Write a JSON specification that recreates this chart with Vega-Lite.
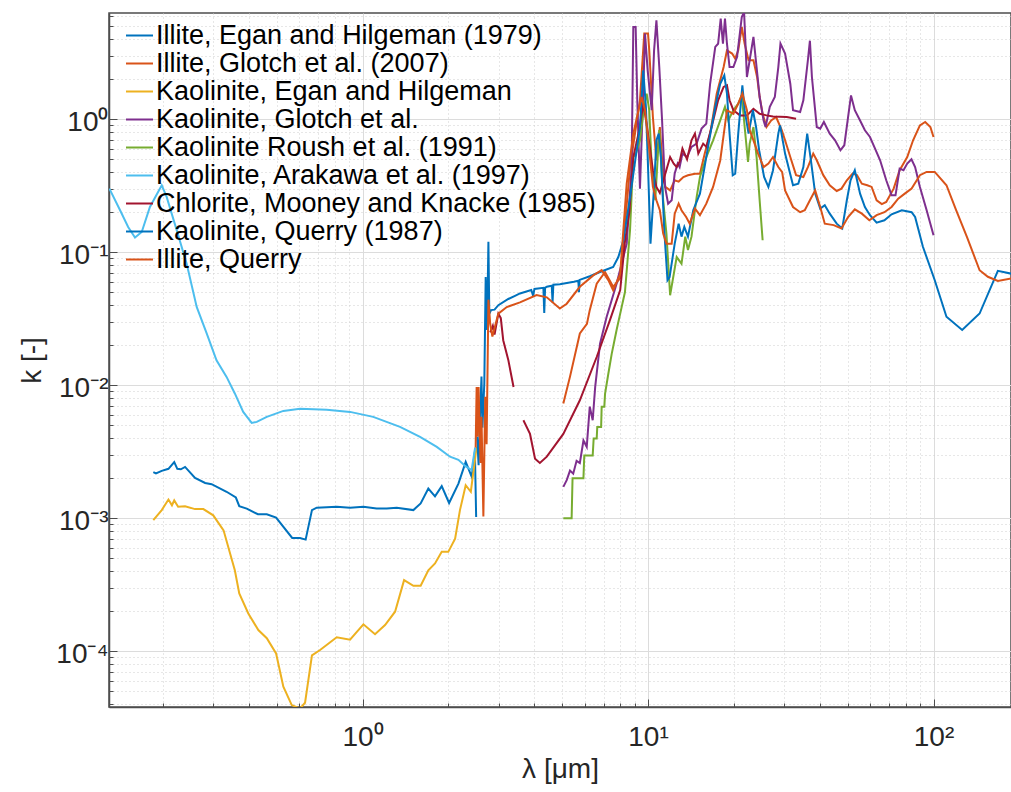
{
  "$schema": "https://vega.github.io/schema/vega-lite/v6.json",
  "width": 902,
  "height": 694,
  "autosize": {"type": "none"},
  "padding": {"left": 109, "top": 13, "right": 0, "bottom": 85},
  "background": "white",
  "config": {
    "font": "Liberation Sans",
    "view": {"stroke": "#4d4d4d", "strokeWidth": 1.5}
  },
  "data": {"values": [
    {"s":"Illite, Egan and Hilgeman (1979)","x":0.185,"k":0.00222},
    {"s":"Illite, Egan and Hilgeman (1979)","x":0.189,"k":0.00217},
    {"s":"Illite, Egan and Hilgeman (1979)","x":0.198,"k":0.00227},
    {"s":"Illite, Egan and Hilgeman (1979)","x":0.209,"k":0.00235},
    {"s":"Illite, Egan and Hilgeman (1979)","x":0.219,"k":0.00264},
    {"s":"Illite, Egan and Hilgeman (1979)","x":0.2245,"k":0.00235},
    {"s":"Illite, Egan and Hilgeman (1979)","x":0.231,"k":0.00233},
    {"s":"Illite, Egan and Hilgeman (1979)","x":0.239,"k":0.00243},
    {"s":"Illite, Egan and Hilgeman (1979)","x":0.259,"k":0.00201},
    {"s":"Illite, Egan and Hilgeman (1979)","x":0.281,"k":0.00184},
    {"s":"Illite, Egan and Hilgeman (1979)","x":0.296,"k":0.0018},
    {"s":"Illite, Egan and Hilgeman (1979)","x":0.334,"k":0.00158},
    {"s":"Illite, Egan and Hilgeman (1979)","x":0.36,"k":0.00143},
    {"s":"Illite, Egan and Hilgeman (1979)","x":0.37,"k":0.00123},
    {"s":"Illite, Egan and Hilgeman (1979)","x":0.393,"k":0.00118},
    {"s":"Illite, Egan and Hilgeman (1979)","x":0.43,"k":0.00107},
    {"s":"Illite, Egan and Hilgeman (1979)","x":0.462,"k":0.00107},
    {"s":"Illite, Egan and Hilgeman (1979)","x":0.498,"k":0.00101},
    {"s":"Illite, Egan and Hilgeman (1979)","x":0.567,"k":0.00071},
    {"s":"Illite, Egan and Hilgeman (1979)","x":0.604,"k":0.00071},
    {"s":"Illite, Egan and Hilgeman (1979)","x":0.632,"k":0.00069},
    {"s":"Illite, Egan and Hilgeman (1979)","x":0.665,"k":0.00115},
    {"s":"Illite, Egan and Hilgeman (1979)","x":0.691,"k":0.0012},
    {"s":"Illite, Egan and Hilgeman (1979)","x":0.812,"k":0.00122},
    {"s":"Illite, Egan and Hilgeman (1979)","x":0.904,"k":0.0012},
    {"s":"Illite, Egan and Hilgeman (1979)","x":1.007,"k":0.00122},
    {"s":"Illite, Egan and Hilgeman (1979)","x":1.12,"k":0.00118},
    {"s":"Illite, Egan and Hilgeman (1979)","x":1.215,"k":0.00118},
    {"s":"Illite, Egan and Hilgeman (1979)","x":1.318,"k":0.0012},
    {"s":"Illite, Egan and Hilgeman (1979)","x":1.507,"k":0.00115},
    {"s":"Illite, Egan and Hilgeman (1979)","x":1.598,"k":0.00129},
    {"s":"Illite, Egan and Hilgeman (1979)","x":1.7,"k":0.00167},
    {"s":"Illite, Egan and Hilgeman (1979)","x":1.794,"k":0.00146},
    {"s":"Illite, Egan and Hilgeman (1979)","x":1.894,"k":0.00174},
    {"s":"Illite, Egan and Hilgeman (1979)","x":2.01,"k":0.0013},
    {"s":"Illite, Egan and Hilgeman (1979)","x":2.167,"k":0.00182},
    {"s":"Illite, Egan and Hilgeman (1979)","x":2.298,"k":0.00265},
    {"s":"Illite, Egan and Hilgeman (1979)","x":2.412,"k":0.00205},
    {"s":"Illite, Egan and Hilgeman (1979)","x":2.475,"k":0.00316},
    {"s":"Illite, Egan and Hilgeman (1979)","x":2.5,"k":0.00102},

    {"s":"Illite, Glotch et al. (2007)","x":5.05,"k":0.00727},
    {"s":"Illite, Glotch et al. (2007)","x":5.33,"k":0.0116},
    {"s":"Illite, Glotch et al. (2007)","x":5.77,"k":0.0245},
    {"s":"Illite, Glotch et al. (2007)","x":6.11,"k":0.029},
    {"s":"Illite, Glotch et al. (2007)","x":6.25,"k":0.0367},
    {"s":"Illite, Glotch et al. (2007)","x":6.61,"k":0.058},
    {"s":"Illite, Glotch et al. (2007)","x":7.07,"k":0.071},
    {"s":"Illite, Glotch et al. (2007)","x":7.55,"k":0.055},
    {"s":"Illite, Glotch et al. (2007)","x":7.99,"k":0.064},
    {"s":"Illite, Glotch et al. (2007)","x":8.65,"k":0.437},
    {"s":"Illite, Glotch et al. (2007)","x":9.0,"k":0.78},
    {"s":"Illite, Glotch et al. (2007)","x":9.37,"k":1.39},
    {"s":"Illite, Glotch et al. (2007)","x":9.7,"k":4.41},
    {"s":"Illite, Glotch et al. (2007)","x":10.0,"k":4.41},
    {"s":"Illite, Glotch et al. (2007)","x":10.1,"k":3.3},
    {"s":"Illite, Glotch et al. (2007)","x":10.4,"k":1.04},
    {"s":"Illite, Glotch et al. (2007)","x":10.7,"k":0.49},
    {"s":"Illite, Glotch et al. (2007)","x":11.0,"k":0.875},
    {"s":"Illite, Glotch et al. (2007)","x":11.25,"k":0.437},
    {"s":"Illite, Glotch et al. (2007)","x":11.5,"k":0.31},
    {"s":"Illite, Glotch et al. (2007)","x":11.95,"k":0.292},
    {"s":"Illite, Glotch et al. (2007)","x":12.4,"k":0.348},
    {"s":"Illite, Glotch et al. (2007)","x":12.8,"k":0.34},
    {"s":"Illite, Glotch et al. (2007)","x":13.3,"k":0.368},
    {"s":"Illite, Glotch et al. (2007)","x":13.8,"k":0.379},
    {"s":"Illite, Glotch et al. (2007)","x":14.6,"k":0.39},
    {"s":"Illite, Glotch et al. (2007)","x":15.2,"k":0.39},
    {"s":"Illite, Glotch et al. (2007)","x":15.8,"k":0.552},
    {"s":"Illite, Glotch et al. (2007)","x":16.5,"k":0.78},
    {"s":"Illite, Glotch et al. (2007)","x":17.4,"k":1.56},
    {"s":"Illite, Glotch et al. (2007)","x":18.4,"k":2.47},
    {"s":"Illite, Glotch et al. (2007)","x":18.9,"k":3.3},
    {"s":"Illite, Glotch et al. (2007)","x":19.7,"k":3.12},
    {"s":"Illite, Glotch et al. (2007)","x":20.2,"k":2.86},
    {"s":"Illite, Glotch et al. (2007)","x":20.7,"k":3.3},
    {"s":"Illite, Glotch et al. (2007)","x":21.3,"k":4.94},
    {"s":"Illite, Glotch et al. (2007)","x":21.8,"k":3.7},
    {"s":"Illite, Glotch et al. (2007)","x":22.5,"k":2.78},
    {"s":"Illite, Glotch et al. (2007)","x":23.4,"k":2.78},
    {"s":"Illite, Glotch et al. (2007)","x":24.1,"k":2.08},
    {"s":"Illite, Glotch et al. (2007)","x":24.6,"k":1.47},
    {"s":"Illite, Glotch et al. (2007)","x":25.2,"k":1.1},
    {"s":"Illite, Glotch et al. (2007)","x":26.0,"k":0.875},
    {"s":"Illite, Glotch et al. (2007)","x":27.0,"k":0.98},
    {"s":"Illite, Glotch et al. (2007)","x":28.1,"k":1.04},
    {"s":"Illite, Glotch et al. (2007)","x":29.4,"k":0.83},
    {"s":"Illite, Glotch et al. (2007)","x":30.2,"k":0.695},
    {"s":"Illite, Glotch et al. (2007)","x":31.5,"k":0.52},
    {"s":"Illite, Glotch et al. (2007)","x":33.0,"k":0.38},
    {"s":"Illite, Glotch et al. (2007)","x":35.0,"k":0.368},
    {"s":"Illite, Glotch et al. (2007)","x":36.3,"k":0.437},
    {"s":"Illite, Glotch et al. (2007)","x":37.9,"k":0.552},
    {"s":"Illite, Glotch et al. (2007)","x":39.0,"k":0.492},
    {"s":"Illite, Glotch et al. (2007)","x":41.1,"k":0.38},
    {"s":"Illite, Glotch et al. (2007)","x":43.3,"k":0.319},
    {"s":"Illite, Glotch et al. (2007)","x":45.8,"k":0.289},
    {"s":"Illite, Glotch et al. (2007)","x":47.6,"k":0.301},
    {"s":"Illite, Glotch et al. (2007)","x":49.7,"k":0.348},
    {"s":"Illite, Glotch et al. (2007)","x":52.1,"k":0.391},
    {"s":"Illite, Glotch et al. (2007)","x":53.9,"k":0.38},
    {"s":"Illite, Glotch et al. (2007)","x":56.1,"k":0.328},
    {"s":"Illite, Glotch et al. (2007)","x":58.6,"k":0.319},
    {"s":"Illite, Glotch et al. (2007)","x":60.7,"k":0.31},
    {"s":"Illite, Glotch et al. (2007)","x":63.2,"k":0.246},
    {"s":"Illite, Glotch et al. (2007)","x":65.9,"k":0.23},
    {"s":"Illite, Glotch et al. (2007)","x":68.3,"k":0.239},
    {"s":"Illite, Glotch et al. (2007)","x":72.5,"k":0.301},
    {"s":"Illite, Glotch et al. (2007)","x":76.1,"k":0.414},
    {"s":"Illite, Glotch et al. (2007)","x":80.9,"k":0.52},
    {"s":"Illite, Glotch et al. (2007)","x":84.8,"k":0.695},
    {"s":"Illite, Glotch et al. (2007)","x":89.6,"k":0.9},
    {"s":"Illite, Glotch et al. (2007)","x":93.5,"k":0.954},
    {"s":"Illite, Glotch et al. (2007)","x":97.5,"k":0.875},
    {"s":"Illite, Glotch et al. (2007)","x":100,"k":0.736},

    {"s":"Kaolinite, Egan and Hilgeman","x":0.185,"k":0.000966},
    {"s":"Kaolinite, Egan and Hilgeman","x":0.198,"k":0.00115},
    {"s":"Kaolinite, Egan and Hilgeman","x":0.209,"k":0.00138},
    {"s":"Kaolinite, Egan and Hilgeman","x":0.215,"k":0.00125},
    {"s":"Kaolinite, Egan and Hilgeman","x":0.219,"k":0.00136},
    {"s":"Kaolinite, Egan and Hilgeman","x":0.226,"k":0.00122},
    {"s":"Kaolinite, Egan and Hilgeman","x":0.239,"k":0.00123},
    {"s":"Kaolinite, Egan and Hilgeman","x":0.259,"k":0.00117},
    {"s":"Kaolinite, Egan and Hilgeman","x":0.277,"k":0.00117},
    {"s":"Kaolinite, Egan and Hilgeman","x":0.3,"k":0.00105},
    {"s":"Kaolinite, Egan and Hilgeman","x":0.326,"k":0.00081},
    {"s":"Kaolinite, Egan and Hilgeman","x":0.357,"k":0.000406},
    {"s":"Kaolinite, Egan and Hilgeman","x":0.37,"k":0.000272},
    {"s":"Kaolinite, Egan and Hilgeman","x":0.398,"k":0.000192},
    {"s":"Kaolinite, Egan and Hilgeman","x":0.4315,"k":0.000144},
    {"s":"Kaolinite, Egan and Hilgeman","x":0.462,"k":0.000125},
    {"s":"Kaolinite, Egan and Hilgeman","x":0.498,"k":0.000096},
    {"s":"Kaolinite, Egan and Hilgeman","x":0.528,"k":0.000054},
    {"s":"Kaolinite, Egan and Hilgeman","x":0.565,"k":0.0000393},
    {"s":"Kaolinite, Egan and Hilgeman","x":0.604,"k":0.000037},
    {"s":"Kaolinite, Egan and Hilgeman","x":0.629,"k":0.0000409},
    {"s":"Kaolinite, Egan and Hilgeman","x":0.665,"k":0.000093},
    {"s":"Kaolinite, Egan and Hilgeman","x":0.71,"k":0.000102},
    {"s":"Kaolinite, Egan and Hilgeman","x":0.812,"k":0.000127},
    {"s":"Kaolinite, Egan and Hilgeman","x":0.904,"k":0.000122},
    {"s":"Kaolinite, Egan and Hilgeman","x":1.007,"k":0.000159},
    {"s":"Kaolinite, Egan and Hilgeman","x":1.106,"k":0.000134},
    {"s":"Kaolinite, Egan and Hilgeman","x":1.199,"k":0.000157},
    {"s":"Kaolinite, Egan and Hilgeman","x":1.3,"k":0.000198},
    {"s":"Kaolinite, Egan and Hilgeman","x":1.398,"k":0.000342},
    {"s":"Kaolinite, Egan and Hilgeman","x":1.507,"k":0.00031},
    {"s":"Kaolinite, Egan and Hilgeman","x":1.598,"k":0.00031},
    {"s":"Kaolinite, Egan and Hilgeman","x":1.7,"k":0.000406},
    {"s":"Kaolinite, Egan and Hilgeman","x":1.794,"k":0.000456},
    {"s":"Kaolinite, Egan and Hilgeman","x":1.894,"k":0.000558},
    {"s":"Kaolinite, Egan and Hilgeman","x":1.997,"k":0.000558},
    {"s":"Kaolinite, Egan and Hilgeman","x":2.11,"k":0.0007},
    {"s":"Kaolinite, Egan and Hilgeman","x":2.194,"k":0.00115},
    {"s":"Kaolinite, Egan and Hilgeman","x":2.298,"k":0.00177},
    {"s":"Kaolinite, Egan and Hilgeman","x":2.395,"k":0.00158},
    {"s":"Kaolinite, Egan and Hilgeman","x":2.51,"k":0.00344},

    {"s":"Kaolinite, Glotch et al.","x":5.05,"k":0.00172},
    {"s":"Kaolinite, Glotch et al.","x":5.19,"k":0.00193},
    {"s":"Kaolinite, Glotch et al.","x":5.33,"k":0.00228},
    {"s":"Kaolinite, Glotch et al.","x":5.47,"k":0.00216},
    {"s":"Kaolinite, Glotch et al.","x":5.62,"k":0.0027},
    {"s":"Kaolinite, Glotch et al.","x":5.77,"k":0.0026},
    {"s":"Kaolinite, Glotch et al.","x":5.94,"k":0.00384},
    {"s":"Kaolinite, Glotch et al.","x":6.1,"k":0.00344},
    {"s":"Kaolinite, Glotch et al.","x":6.25,"k":0.0069},
    {"s":"Kaolinite, Glotch et al.","x":6.4,"k":0.00545},
    {"s":"Kaolinite, Glotch et al.","x":6.53,"k":0.0097},
    {"s":"Kaolinite, Glotch et al.","x":6.79,"k":0.0205},
    {"s":"Kaolinite, Glotch et al.","x":7.16,"k":0.0326},
    {"s":"Kaolinite, Glotch et al.","x":7.76,"k":0.058},
    {"s":"Kaolinite, Glotch et al.","x":8.42,"k":0.116},
    {"s":"Kaolinite, Glotch et al.","x":8.76,"k":0.437},
    {"s":"Kaolinite, Glotch et al.","x":8.88,"k":4.94},
    {"s":"Kaolinite, Glotch et al.","x":9.05,"k":4.94},
    {"s":"Kaolinite, Glotch et al.","x":9.17,"k":1.39},
    {"s":"Kaolinite, Glotch et al.","x":9.37,"k":0.301},
    {"s":"Kaolinite, Glotch et al.","x":9.6,"k":1.39},
    {"s":"Kaolinite, Glotch et al.","x":9.76,"k":4.41},
    {"s":"Kaolinite, Glotch et al.","x":9.97,"k":2.33},
    {"s":"Kaolinite, Glotch et al.","x":10.3,"k":1.17},
    {"s":"Kaolinite, Glotch et al.","x":10.5,"k":3.3},
    {"s":"Kaolinite, Glotch et al.","x":10.7,"k":5.55},
    {"s":"Kaolinite, Glotch et al.","x":10.95,"k":2.47},
    {"s":"Kaolinite, Glotch et al.","x":11.2,"k":0.98},
    {"s":"Kaolinite, Glotch et al.","x":11.47,"k":0.31},
    {"s":"Kaolinite, Glotch et al.","x":11.76,"k":0.232},
    {"s":"Kaolinite, Glotch et al.","x":12.1,"k":0.246},
    {"s":"Kaolinite, Glotch et al.","x":12.4,"k":0.391},
    {"s":"Kaolinite, Glotch et al.","x":12.7,"k":0.464},
    {"s":"Kaolinite, Glotch et al.","x":12.9,"k":0.437},
    {"s":"Kaolinite, Glotch et al.","x":13.2,"k":0.552},
    {"s":"Kaolinite, Glotch et al.","x":13.7,"k":0.52},
    {"s":"Kaolinite, Glotch et al.","x":14.2,"k":0.62},
    {"s":"Kaolinite, Glotch et al.","x":14.8,"k":0.656},
    {"s":"Kaolinite, Glotch et al.","x":15.4,"k":0.851},
    {"s":"Kaolinite, Glotch et al.","x":16.0,"k":0.928},
    {"s":"Kaolinite, Glotch et al.","x":16.5,"k":1.85},
    {"s":"Kaolinite, Glotch et al.","x":17.2,"k":3.5},
    {"s":"Kaolinite, Glotch et al.","x":17.6,"k":3.7},
    {"s":"Kaolinite, Glotch et al.","x":17.97,"k":5.72},
    {"s":"Kaolinite, Glotch et al.","x":18.3,"k":3.7},
    {"s":"Kaolinite, Glotch et al.","x":18.6,"k":5.72},
    {"s":"Kaolinite, Glotch et al.","x":18.9,"k":3.7},
    {"s":"Kaolinite, Glotch et al.","x":19.3,"k":2.47},
    {"s":"Kaolinite, Glotch et al.","x":19.9,"k":2.47},
    {"s":"Kaolinite, Glotch et al.","x":20.5,"k":2.94},
    {"s":"Kaolinite, Glotch et al.","x":21.3,"k":5.88},
    {"s":"Kaolinite, Glotch et al.","x":21.7,"k":6.4},
    {"s":"Kaolinite, Glotch et al.","x":22.2,"k":2.08},
    {"s":"Kaolinite, Glotch et al.","x":22.7,"k":2.78},
    {"s":"Kaolinite, Glotch et al.","x":23.4,"k":4.16},
    {"s":"Kaolinite, Glotch et al.","x":24.0,"k":2.47},
    {"s":"Kaolinite, Glotch et al.","x":24.6,"k":1.47},
    {"s":"Kaolinite, Glotch et al.","x":25.4,"k":0.98},
    {"s":"Kaolinite, Glotch et al.","x":25.8,"k":0.875},
    {"s":"Kaolinite, Glotch et al.","x":26.7,"k":1.24},
    {"s":"Kaolinite, Glotch et al.","x":27.8,"k":1.47},
    {"s":"Kaolinite, Glotch et al.","x":28.6,"k":2.47},
    {"s":"Kaolinite, Glotch et al.","x":29.1,"k":3.71},
    {"s":"Kaolinite, Glotch et al.","x":30.2,"k":3.12},
    {"s":"Kaolinite, Glotch et al.","x":31.5,"k":1.85},
    {"s":"Kaolinite, Glotch et al.","x":32.2,"k":1.17},
    {"s":"Kaolinite, Glotch et al.","x":34.1,"k":1.135},
    {"s":"Kaolinite, Glotch et al.","x":35.0,"k":1.39},
    {"s":"Kaolinite, Glotch et al.","x":36.3,"k":2.78},
    {"s":"Kaolinite, Glotch et al.","x":36.9,"k":3.9},
    {"s":"Kaolinite, Glotch et al.","x":37.5,"k":2.08},
    {"s":"Kaolinite, Glotch et al.","x":39.0,"k":0.875},
    {"s":"Kaolinite, Glotch et al.","x":40.1,"k":0.851},
    {"s":"Kaolinite, Glotch et al.","x":41.3,"k":0.954},
    {"s":"Kaolinite, Glotch et al.","x":43.3,"k":0.78},
    {"s":"Kaolinite, Glotch et al.","x":45.2,"k":0.695},
    {"s":"Kaolinite, Glotch et al.","x":47.2,"k":0.585},
    {"s":"Kaolinite, Glotch et al.","x":48.7,"k":0.638},
    {"s":"Kaolinite, Glotch et al.","x":50.2,"k":1.04},
    {"s":"Kaolinite, Glotch et al.","x":51.4,"k":1.51},
    {"s":"Kaolinite, Glotch et al.","x":53.0,"k":1.17},
    {"s":"Kaolinite, Glotch et al.","x":55.3,"k":0.98},
    {"s":"Kaolinite, Glotch et al.","x":57.5,"k":0.827},
    {"s":"Kaolinite, Glotch et al.","x":59.9,"k":0.736},
    {"s":"Kaolinite, Glotch et al.","x":62.4,"k":0.602},
    {"s":"Kaolinite, Glotch et al.","x":65.0,"k":0.492},
    {"s":"Kaolinite, Glotch et al.","x":68.3,"k":0.348},
    {"s":"Kaolinite, Glotch et al.","x":71.3,"k":0.268},
    {"s":"Kaolinite, Glotch et al.","x":73.6,"k":0.268},
    {"s":"Kaolinite, Glotch et al.","x":76.1,"k":0.426},
    {"s":"Kaolinite, Glotch et al.","x":78.5,"k":0.414},
    {"s":"Kaolinite, Glotch et al.","x":80.9,"k":0.464},
    {"s":"Kaolinite, Glotch et al.","x":83.7,"k":0.5},
    {"s":"Kaolinite, Glotch et al.","x":86.2,"k":0.437},
    {"s":"Kaolinite, Glotch et al.","x":89.6,"k":0.31},
    {"s":"Kaolinite, Glotch et al.","x":94.6,"k":0.207},
    {"s":"Kaolinite, Glotch et al.","x":100,"k":0.134},

    {"s":"Kaolinite Roush et al. (1991)","x":5.05,"k":0.001},
    {"s":"Kaolinite Roush et al. (1991)","x":5.4,"k":0.001},
    {"s":"Kaolinite Roush et al. (1991)","x":5.44,"k":0.002},
    {"s":"Kaolinite Roush et al. (1991)","x":5.94,"k":0.002},
    {"s":"Kaolinite Roush et al. (1991)","x":5.98,"k":0.00296},
    {"s":"Kaolinite Roush et al. (1991)","x":6.4,"k":0.00296},
    {"s":"Kaolinite Roush et al. (1991)","x":6.45,"k":0.00397},
    {"s":"Kaolinite Roush et al. (1991)","x":6.61,"k":0.00397},
    {"s":"Kaolinite Roush et al. (1991)","x":6.64,"k":0.00484},
    {"s":"Kaolinite Roush et al. (1991)","x":6.85,"k":0.00484},
    {"s":"Kaolinite Roush et al. (1991)","x":6.88,"k":0.0069},
    {"s":"Kaolinite Roush et al. (1991)","x":7.03,"k":0.0069},
    {"s":"Kaolinite Roush et al. (1991)","x":7.07,"k":0.0086},
    {"s":"Kaolinite Roush et al. (1991)","x":7.26,"k":0.0122},
    {"s":"Kaolinite Roush et al. (1991)","x":7.46,"k":0.0172},
    {"s":"Kaolinite Roush et al. (1991)","x":7.76,"k":0.026},
    {"s":"Kaolinite Roush et al. (1991)","x":8.09,"k":0.039},
    {"s":"Kaolinite Roush et al. (1991)","x":8.3,"k":0.05},
    {"s":"Kaolinite Roush et al. (1991)","x":8.65,"k":0.147},
    {"s":"Kaolinite Roush et al. (1991)","x":8.88,"k":0.52},
    {"s":"Kaolinite Roush et al. (1991)","x":9.07,"k":0.552},
    {"s":"Kaolinite Roush et al. (1991)","x":9.37,"k":0.695},
    {"s":"Kaolinite Roush et al. (1991)","x":9.68,"k":1.24},
    {"s":"Kaolinite Roush et al. (1991)","x":9.89,"k":1.56},
    {"s":"Kaolinite Roush et al. (1991)","x":10.1,"k":1.17},
    {"s":"Kaolinite Roush et al. (1991)","x":10.3,"k":0.437},
    {"s":"Kaolinite Roush et al. (1991)","x":10.6,"k":0.246},
    {"s":"Kaolinite Roush et al. (1991)","x":10.95,"k":0.83},
    {"s":"Kaolinite Roush et al. (1991)","x":11.3,"k":0.246},
    {"s":"Kaolinite Roush et al. (1991)","x":11.6,"k":0.138},
    {"s":"Kaolinite Roush et al. (1991)","x":11.95,"k":0.0475},
    {"s":"Kaolinite Roush et al. (1991)","x":12.6,"k":0.092},
    {"s":"Kaolinite Roush et al. (1991)","x":13.1,"k":0.082},
    {"s":"Kaolinite Roush et al. (1991)","x":13.5,"k":0.131},
    {"s":"Kaolinite Roush et al. (1991)","x":13.8,"k":0.104},
    {"s":"Kaolinite Roush et al. (1991)","x":14.2,"k":0.131},
    {"s":"Kaolinite Roush et al. (1991)","x":14.8,"k":0.26},
    {"s":"Kaolinite Roush et al. (1991)","x":15.2,"k":0.368},
    {"s":"Kaolinite Roush et al. (1991)","x":16.0,"k":0.52},
    {"s":"Kaolinite Roush et al. (1991)","x":16.9,"k":0.695},
    {"s":"Kaolinite Roush et al. (1991)","x":17.9,"k":0.98},
    {"s":"Kaolinite Roush et al. (1991)","x":18.6,"k":1.24},
    {"s":"Kaolinite Roush et al. (1991)","x":19.1,"k":0.98},
    {"s":"Kaolinite Roush et al. (1991)","x":19.9,"k":1.17},
    {"s":"Kaolinite Roush et al. (1991)","x":20.7,"k":1.31},
    {"s":"Kaolinite Roush et al. (1991)","x":21.3,"k":1.51},
    {"s":"Kaolinite Roush et al. (1991)","x":21.8,"k":0.875},
    {"s":"Kaolinite Roush et al. (1991)","x":22.4,"k":0.477},
    {"s":"Kaolinite Roush et al. (1991)","x":22.7,"k":0.656},
    {"s":"Kaolinite Roush et al. (1991)","x":23.4,"k":0.875},
    {"s":"Kaolinite Roush et al. (1991)","x":24.0,"k":0.52},
    {"s":"Kaolinite Roush et al. (1991)","x":24.6,"k":0.246},
    {"s":"Kaolinite Roush et al. (1991)","x":25.2,"k":0.123},

    {"s":"Kaolinite, Arakawa et al. (1997)","x":0.1298,"k":0.301},
    {"s":"Kaolinite, Arakawa et al. (1997)","x":0.1415,"k":0.207},
    {"s":"Kaolinite, Arakawa et al. (1997)","x":0.151,"k":0.155},
    {"s":"Kaolinite, Arakawa et al. (1997)","x":0.1596,"k":0.129},
    {"s":"Kaolinite, Arakawa et al. (1997)","x":0.1685,"k":0.142},
    {"s":"Kaolinite, Arakawa et al. (1997)","x":0.18,"k":0.219},
    {"s":"Kaolinite, Arakawa et al. (1997)","x":0.198,"k":0.319},
    {"s":"Kaolinite, Arakawa et al. (1997)","x":0.206,"k":0.261},
    {"s":"Kaolinite, Arakawa et al. (1997)","x":0.2235,"k":0.146},
    {"s":"Kaolinite, Arakawa et al. (1997)","x":0.242,"k":0.0822},
    {"s":"Kaolinite, Arakawa et al. (1997)","x":0.2625,"k":0.0388},
    {"s":"Kaolinite, Arakawa et al. (1997)","x":0.2845,"k":0.0245},
    {"s":"Kaolinite, Arakawa et al. (1997)","x":0.308,"k":0.0154},
    {"s":"Kaolinite, Arakawa et al. (1997)","x":0.334,"k":0.01155},
    {"s":"Kaolinite, Arakawa et al. (1997)","x":0.357,"k":0.00867},
    {"s":"Kaolinite, Arakawa et al. (1997)","x":0.382,"k":0.0063},
    {"s":"Kaolinite, Arakawa et al. (1997)","x":0.409,"k":0.0052},
    {"s":"Kaolinite, Arakawa et al. (1997)","x":0.426,"k":0.0053},
    {"s":"Kaolinite, Arakawa et al. (1997)","x":0.462,"k":0.00578},
    {"s":"Kaolinite, Arakawa et al. (1997)","x":0.528,"k":0.00641},
    {"s":"Kaolinite, Arakawa et al. (1997)","x":0.604,"k":0.00664},
    {"s":"Kaolinite, Arakawa et al. (1997)","x":0.749,"k":0.00655},
    {"s":"Kaolinite, Arakawa et al. (1997)","x":0.904,"k":0.0063},
    {"s":"Kaolinite, Arakawa et al. (1997)","x":1.09,"k":0.00578},
    {"s":"Kaolinite, Arakawa et al. (1997)","x":1.353,"k":0.00486},
    {"s":"Kaolinite, Arakawa et al. (1997)","x":1.59,"k":0.00409},
    {"s":"Kaolinite, Arakawa et al. (1997)","x":1.82,"k":0.00344},
    {"s":"Kaolinite, Arakawa et al. (1997)","x":2.025,"k":0.0029},
    {"s":"Kaolinite, Arakawa et al. (1997)","x":2.167,"k":0.00275},
    {"s":"Kaolinite, Arakawa et al. (1997)","x":2.298,"k":0.00245},
    {"s":"Kaolinite, Arakawa et al. (1997)","x":2.41,"k":0.0023},
    {"s":"Kaolinite, Arakawa et al. (1997)","x":2.48,"k":0.0034},

    {"s":"Chlorite, Mooney and Knacke (1985)","g":1,"x":2.8,"k":0.025},
    {"s":"Chlorite, Mooney and Knacke (1985)","g":1,"x":2.86,"k":0.028},
    {"s":"Chlorite, Mooney and Knacke (1985)","g":1,"x":2.9,"k":0.024},
    {"s":"Chlorite, Mooney and Knacke (1985)","g":1,"x":2.99,"k":0.0345},
    {"s":"Chlorite, Mooney and Knacke (1985)","g":1,"x":3.05,"k":0.032},
    {"s":"Chlorite, Mooney and Knacke (1985)","g":1,"x":3.11,"k":0.0218},
    {"s":"Chlorite, Mooney and Knacke (1985)","g":1,"x":3.24,"k":0.0155},
    {"s":"Chlorite, Mooney and Knacke (1985)","g":1,"x":3.38,"k":0.0097},
    {"s":"Chlorite, Mooney and Knacke (1985)","g":2,"x":3.66,"k":0.00545},
    {"s":"Chlorite, Mooney and Knacke (1985)","g":2,"x":3.86,"k":0.0043},
    {"s":"Chlorite, Mooney and Knacke (1985)","g":2,"x":4.02,"k":0.0028},
    {"s":"Chlorite, Mooney and Knacke (1985)","g":2,"x":4.18,"k":0.0026},
    {"s":"Chlorite, Mooney and Knacke (1985)","g":2,"x":4.42,"k":0.0029},
    {"s":"Chlorite, Mooney and Knacke (1985)","g":2,"x":5.05,"k":0.0043},
    {"s":"Chlorite, Mooney and Knacke (1985)","g":2,"x":5.77,"k":0.0077},
    {"s":"Chlorite, Mooney and Knacke (1985)","g":2,"x":6.61,"k":0.0163},
    {"s":"Chlorite, Mooney and Knacke (1985)","g":2,"x":7.36,"k":0.031},
    {"s":"Chlorite, Mooney and Knacke (1985)","g":2,"x":7.99,"k":0.052},
    {"s":"Chlorite, Mooney and Knacke (1985)","g":2,"x":8.3,"k":0.12},
    {"s":"Chlorite, Mooney and Knacke (1985)","g":2,"x":8.6,"k":0.2},
    {"s":"Chlorite, Mooney and Knacke (1985)","g":2,"x":8.88,"k":0.52},
    {"s":"Chlorite, Mooney and Knacke (1985)","g":2,"x":9.32,"k":0.83},
    {"s":"Chlorite, Mooney and Knacke (1985)","g":2,"x":9.62,"k":1.31},
    {"s":"Chlorite, Mooney and Knacke (1985)","g":2,"x":9.89,"k":0.928},
    {"s":"Chlorite, Mooney and Knacke (1985)","g":2,"x":10.1,"k":0.656},
    {"s":"Chlorite, Mooney and Knacke (1985)","g":2,"x":10.4,"k":0.414},
    {"s":"Chlorite, Mooney and Knacke (1985)","g":2,"x":10.7,"k":0.31},
    {"s":"Chlorite, Mooney and Knacke (1985)","g":2,"x":11.0,"k":0.279},
    {"s":"Chlorite, Mooney and Knacke (1985)","g":2,"x":11.5,"k":0.391},
    {"s":"Chlorite, Mooney and Knacke (1985)","g":2,"x":11.95,"k":0.52},
    {"s":"Chlorite, Mooney and Knacke (1985)","g":2,"x":12.3,"k":0.464},
    {"s":"Chlorite, Mooney and Knacke (1985)","g":2,"x":12.6,"k":0.437},
    {"s":"Chlorite, Mooney and Knacke (1985)","g":2,"x":12.9,"k":0.48},
    {"s":"Chlorite, Mooney and Knacke (1985)","g":2,"x":13.2,"k":0.602},
    {"s":"Chlorite, Mooney and Knacke (1985)","g":2,"x":13.7,"k":0.5},
    {"s":"Chlorite, Mooney and Knacke (1985)","g":2,"x":14.2,"k":0.695},
    {"s":"Chlorite, Mooney and Knacke (1985)","g":2,"x":14.6,"k":0.78},
    {"s":"Chlorite, Mooney and Knacke (1985)","g":2,"x":15.0,"k":0.552},
    {"s":"Chlorite, Mooney and Knacke (1985)","g":2,"x":15.6,"k":0.656},
    {"s":"Chlorite, Mooney and Knacke (1985)","g":2,"x":16.0,"k":0.62},
    {"s":"Chlorite, Mooney and Knacke (1985)","g":2,"x":16.7,"k":0.875},
    {"s":"Chlorite, Mooney and Knacke (1985)","g":2,"x":17.6,"k":1.39},
    {"s":"Chlorite, Mooney and Knacke (1985)","g":2,"x":18.4,"k":1.75},
    {"s":"Chlorite, Mooney and Knacke (1985)","g":2,"x":18.9,"k":1.8},
    {"s":"Chlorite, Mooney and Knacke (1985)","g":2,"x":19.3,"k":1.39},
    {"s":"Chlorite, Mooney and Knacke (1985)","g":2,"x":19.9,"k":1.17},
    {"s":"Chlorite, Mooney and Knacke (1985)","g":2,"x":21.0,"k":1.07},
    {"s":"Chlorite, Mooney and Knacke (1985)","g":2,"x":22.2,"k":1.07},
    {"s":"Chlorite, Mooney and Knacke (1985)","g":2,"x":23.4,"k":1.2},
    {"s":"Chlorite, Mooney and Knacke (1985)","g":2,"x":24.6,"k":1.1},
    {"s":"Chlorite, Mooney and Knacke (1985)","g":2,"x":26.0,"k":1.07},
    {"s":"Chlorite, Mooney and Knacke (1985)","g":2,"x":27.4,"k":1.05},
    {"s":"Chlorite, Mooney and Knacke (1985)","g":2,"x":30.6,"k":1.04},
    {"s":"Chlorite, Mooney and Knacke (1985)","g":2,"x":33.0,"k":1.01},

    {"s":"Kaolinite, Querry (1987)","x":2.52,"k":0.0041},
    {"s":"Kaolinite, Querry (1987)","x":2.55,"k":0.0025},
    {"s":"Kaolinite, Querry (1987)","x":2.58,"k":0.006},
    {"s":"Kaolinite, Querry (1987)","x":2.61,"k":0.0116},
    {"s":"Kaolinite, Querry (1987)","x":2.63,"k":0.0048},
    {"s":"Kaolinite, Querry (1987)","x":2.67,"k":0.0103},
    {"s":"Kaolinite, Querry (1987)","x":2.7,"k":0.065},
    {"s":"Kaolinite, Querry (1987)","x":2.73,"k":0.026},
    {"s":"Kaolinite, Querry (1987)","x":2.76,"k":0.12},
    {"s":"Kaolinite, Querry (1987)","x":2.78,"k":0.0345},
    {"s":"Kaolinite, Querry (1987)","x":2.82,"k":0.0367},
    {"s":"Kaolinite, Querry (1987)","x":2.9,"k":0.037},
    {"s":"Kaolinite, Querry (1987)","x":2.99,"k":0.04},
    {"s":"Kaolinite, Querry (1987)","x":3.24,"k":0.0445},
    {"s":"Kaolinite, Querry (1987)","x":3.42,"k":0.047},
    {"s":"Kaolinite, Querry (1987)","x":3.56,"k":0.049},
    {"s":"Kaolinite, Querry (1987)","x":3.9,"k":0.052},
    {"s":"Kaolinite, Querry (1987)","x":3.96,"k":0.047},
    {"s":"Kaolinite, Querry (1987)","x":4.0,"k":0.053},
    {"s":"Kaolinite, Querry (1987)","x":4.3,"k":0.054},
    {"s":"Kaolinite, Querry (1987)","x":4.33,"k":0.035},
    {"s":"Kaolinite, Querry (1987)","x":4.36,"k":0.054},
    {"s":"Kaolinite, Querry (1987)","x":4.42,"k":0.055},
    {"s":"Kaolinite, Querry (1987)","x":4.6,"k":0.056},
    {"s":"Kaolinite, Querry (1987)","x":4.63,"k":0.042},
    {"s":"Kaolinite, Querry (1987)","x":4.66,"k":0.057},
    {"s":"Kaolinite, Querry (1987)","x":4.91,"k":0.0575},
    {"s":"Kaolinite, Querry (1987)","x":5.5,"k":0.06},
    {"s":"Kaolinite, Querry (1987)","x":5.7,"k":0.061},
    {"s":"Kaolinite, Querry (1987)","x":5.73,"k":0.05},
    {"s":"Kaolinite, Querry (1987)","x":5.76,"k":0.062},
    {"s":"Kaolinite, Querry (1987)","x":6.25,"k":0.066},
    {"s":"Kaolinite, Querry (1987)","x":6.79,"k":0.071},
    {"s":"Kaolinite, Querry (1987)","x":7.55,"k":0.0776},
    {"s":"Kaolinite, Querry (1987)","x":7.87,"k":0.092},
    {"s":"Kaolinite, Querry (1987)","x":8.2,"k":0.123},
    {"s":"Kaolinite, Querry (1987)","x":8.65,"k":0.26},
    {"s":"Kaolinite, Querry (1987)","x":9.37,"k":0.875},
    {"s":"Kaolinite, Querry (1987)","x":9.62,"k":2.33},
    {"s":"Kaolinite, Querry (1987)","x":9.83,"k":1.24},
    {"s":"Kaolinite, Querry (1987)","x":10.0,"k":0.437},
    {"s":"Kaolinite, Querry (1987)","x":10.2,"k":0.116},
    {"s":"Kaolinite, Querry (1987)","x":10.5,"k":0.31},
    {"s":"Kaolinite, Querry (1987)","x":10.7,"k":0.695},
    {"s":"Kaolinite, Querry (1987)","x":10.9,"k":0.78},
    {"s":"Kaolinite, Querry (1987)","x":11.1,"k":0.52},
    {"s":"Kaolinite, Querry (1987)","x":11.4,"k":0.146},
    {"s":"Kaolinite, Querry (1987)","x":11.7,"k":0.0616},
    {"s":"Kaolinite, Querry (1987)","x":11.9,"k":0.065},
    {"s":"Kaolinite, Querry (1987)","x":12.4,"k":0.116},
    {"s":"Kaolinite, Querry (1987)","x":12.8,"k":0.164},
    {"s":"Kaolinite, Querry (1987)","x":13.1,"k":0.131},
    {"s":"Kaolinite, Querry (1987)","x":13.4,"k":0.155},
    {"s":"Kaolinite, Querry (1987)","x":13.8,"k":0.131},
    {"s":"Kaolinite, Querry (1987)","x":14.4,"k":0.207},
    {"s":"Kaolinite, Querry (1987)","x":15.2,"k":0.276},
    {"s":"Kaolinite, Querry (1987)","x":16.3,"k":0.656},
    {"s":"Kaolinite, Querry (1987)","x":17.2,"k":1.24},
    {"s":"Kaolinite, Querry (1987)","x":17.9,"k":1.85},
    {"s":"Kaolinite, Querry (1987)","x":18.5,"k":2.14},
    {"s":"Kaolinite, Querry (1987)","x":18.9,"k":1.56},
    {"s":"Kaolinite, Querry (1987)","x":19.3,"k":0.78},
    {"s":"Kaolinite, Querry (1987)","x":19.8,"k":0.379},
    {"s":"Kaolinite, Querry (1987)","x":20.2,"k":0.39},
    {"s":"Kaolinite, Querry (1987)","x":20.7,"k":0.78},
    {"s":"Kaolinite, Querry (1987)","x":21.4,"k":1.8},
    {"s":"Kaolinite, Querry (1987)","x":21.8,"k":1.17},
    {"s":"Kaolinite, Querry (1987)","x":22.5,"k":0.78},
    {"s":"Kaolinite, Querry (1987)","x":23.3,"k":1.17},
    {"s":"Kaolinite, Querry (1987)","x":23.9,"k":0.875},
    {"s":"Kaolinite, Querry (1987)","x":24.5,"k":0.585},
    {"s":"Kaolinite, Querry (1987)","x":25.5,"k":0.368},
    {"s":"Kaolinite, Querry (1987)","x":26.4,"k":0.31},
    {"s":"Kaolinite, Querry (1987)","x":27.4,"k":0.414},
    {"s":"Kaolinite, Querry (1987)","x":28.6,"k":0.78},
    {"s":"Kaolinite, Querry (1987)","x":29.0,"k":0.9},
    {"s":"Kaolinite, Querry (1987)","x":30.2,"k":0.552},
    {"s":"Kaolinite, Querry (1987)","x":32.2,"k":0.319},
    {"s":"Kaolinite, Querry (1987)","x":33.6,"k":0.328},
    {"s":"Kaolinite, Querry (1987)","x":35.0,"k":0.437},
    {"s":"Kaolinite, Querry (1987)","x":36.1,"k":0.78},
    {"s":"Kaolinite, Querry (1987)","x":37.2,"k":0.49},
    {"s":"Kaolinite, Querry (1987)","x":38.5,"k":0.276},
    {"s":"Kaolinite, Querry (1987)","x":40.1,"k":0.213},
    {"s":"Kaolinite, Querry (1987)","x":41.6,"k":0.226},
    {"s":"Kaolinite, Querry (1987)","x":43.3,"k":0.195},
    {"s":"Kaolinite, Querry (1987)","x":45.8,"k":0.164},
    {"s":"Kaolinite, Querry (1987)","x":47.9,"k":0.151},
    {"s":"Kaolinite, Querry (1987)","x":49.7,"k":0.246},
    {"s":"Kaolinite, Querry (1987)","x":51.2,"k":0.348},
    {"s":"Kaolinite, Querry (1987)","x":53.0,"k":0.414},
    {"s":"Kaolinite, Querry (1987)","x":55.3,"k":0.276},
    {"s":"Kaolinite, Querry (1987)","x":57.5,"k":0.219},
    {"s":"Kaolinite, Querry (1987)","x":59.9,"k":0.19},
    {"s":"Kaolinite, Querry (1987)","x":63.2,"k":0.167},
    {"s":"Kaolinite, Querry (1987)","x":67.3,"k":0.174},
    {"s":"Kaolinite, Querry (1987)","x":71.3,"k":0.193},
    {"s":"Kaolinite, Querry (1987)","x":77.4,"k":0.207},
    {"s":"Kaolinite, Querry (1987)","x":83.8,"k":0.2},
    {"s":"Kaolinite, Querry (1987)","x":86.2,"k":0.184},
    {"s":"Kaolinite, Querry (1987)","x":91.8,"k":0.11},
    {"s":"Kaolinite, Querry (1987)","x":101,"k":0.0616},
    {"s":"Kaolinite, Querry (1987)","x":111,"k":0.0327},
    {"s":"Kaolinite, Querry (1987)","x":126,"k":0.026},
    {"s":"Kaolinite, Querry (1987)","x":145,"k":0.0346},
    {"s":"Kaolinite, Querry (1987)","x":168,"k":0.0724},
    {"s":"Kaolinite, Querry (1987)","x":187,"k":0.069},

    {"s":"Illite, Querry","x":2.49,"k":0.0034},
    {"s":"Illite, Querry","x":2.51,"k":0.0097},
    {"s":"Illite, Querry","x":2.53,"k":0.0041},
    {"s":"Illite, Querry","x":2.55,"k":0.0097},
    {"s":"Illite, Querry","x":2.59,"k":0.0026},
    {"s":"Illite, Querry","x":2.61,"k":0.0058},
    {"s":"Illite, Querry","x":2.65,"k":0.00103},
    {"s":"Illite, Querry","x":2.69,"k":0.0082},
    {"s":"Illite, Querry","x":2.72,"k":0.0036},
    {"s":"Illite, Querry","x":2.76,"k":0.044},
    {"s":"Illite, Querry","x":2.8,"k":0.029},
    {"s":"Illite, Querry","x":2.85,"k":0.0232},
    {"s":"Illite, Querry","x":2.91,"k":0.0276},
    {"s":"Illite, Querry","x":2.99,"k":0.0345},
    {"s":"Illite, Querry","x":3.2,"k":0.0387},
    {"s":"Illite, Querry","x":3.56,"k":0.042},
    {"s":"Illite, Querry","x":4.07,"k":0.0476},
    {"s":"Illite, Querry","x":4.42,"k":0.0458},
    {"s":"Illite, Querry","x":4.91,"k":0.0377},
    {"s":"Illite, Querry","x":5.19,"k":0.041},
    {"s":"Illite, Querry","x":5.77,"k":0.055},
    {"s":"Illite, Querry","x":6.43,"k":0.067},
    {"s":"Illite, Querry","x":6.88,"k":0.0734},
    {"s":"Illite, Querry","x":7.26,"k":0.0617},
    {"s":"Illite, Querry","x":7.55,"k":0.0518},
    {"s":"Illite, Querry","x":7.99,"k":0.0688},
    {"s":"Illite, Querry","x":8.42,"k":0.328},
    {"s":"Illite, Querry","x":8.88,"k":0.78},
    {"s":"Illite, Querry","x":9.26,"k":1.17},
    {"s":"Illite, Querry","x":9.5,"k":1.47},
    {"s":"Illite, Querry","x":9.76,"k":1.17},
    {"s":"Illite, Querry","x":10.1,"k":0.585},
    {"s":"Illite, Querry","x":10.4,"k":0.31},
    {"s":"Illite, Querry","x":10.7,"k":0.246},
    {"s":"Illite, Querry","x":11.0,"k":0.207},
    {"s":"Illite, Querry","x":11.3,"k":0.138},
    {"s":"Illite, Querry","x":11.6,"k":0.116},
    {"s":"Illite, Querry","x":12.1,"k":0.116},
    {"s":"Illite, Querry","x":12.4,"k":0.195},
    {"s":"Illite, Querry","x":12.8,"k":0.232},
    {"s":"Illite, Querry","x":13.1,"k":0.207},
    {"s":"Illite, Querry","x":13.6,"k":0.184},
    {"s":"Illite, Querry","x":14.0,"k":0.164},
    {"s":"Illite, Querry","x":14.6,"k":0.213},
    {"s":"Illite, Querry","x":15.2,"k":0.19},
    {"s":"Illite, Querry","x":16.0,"k":0.232},
    {"s":"Illite, Querry","x":16.9,"k":0.31},
    {"s":"Illite, Querry","x":17.9,"k":0.49},
    {"s":"Illite, Querry","x":18.9,"k":1.17},
    {"s":"Illite, Querry","x":19.9,"k":1.1},
    {"s":"Illite, Querry","x":20.7,"k":1.31},
    {"s":"Illite, Querry","x":21.4,"k":1.56},
    {"s":"Illite, Querry","x":22.2,"k":1.17},
    {"s":"Illite, Querry","x":22.7,"k":0.83},
    {"s":"Illite, Querry","x":23.4,"k":0.695},
    {"s":"Illite, Querry","x":24.3,"k":0.552},
    {"s":"Illite, Querry","x":25.4,"k":0.437},
    {"s":"Illite, Querry","x":26.4,"k":0.464},
    {"s":"Illite, Querry","x":27.4,"k":0.52},
    {"s":"Illite, Querry","x":28.6,"k":0.437},
    {"s":"Illite, Querry","x":29.5,"k":0.4},
    {"s":"Illite, Querry","x":30.2,"k":0.292},
    {"s":"Illite, Querry","x":32.2,"k":0.219},
    {"s":"Illite, Querry","x":34.1,"k":0.2},
    {"s":"Illite, Querry","x":35.4,"k":0.207},
    {"s":"Illite, Querry","x":36.9,"k":0.246},
    {"s":"Illite, Querry","x":38.5,"k":0.292},
    {"s":"Illite, Querry","x":40.1,"k":0.219},
    {"s":"Illite, Querry","x":41.6,"k":0.164},
    {"s":"Illite, Querry","x":44.7,"k":0.16},
    {"s":"Illite, Querry","x":47.6,"k":0.151},
    {"s":"Illite, Querry","x":50.2,"k":0.184},
    {"s":"Illite, Querry","x":53,"k":0.21},
    {"s":"Illite, Querry","x":56.1,"k":0.195},
    {"s":"Illite, Querry","x":59.6,"k":0.174},
    {"s":"Illite, Querry","x":63.2,"k":0.19},
    {"s":"Illite, Querry","x":67.3,"k":0.2},
    {"s":"Illite, Querry","x":71.3,"k":0.219},
    {"s":"Illite, Querry","x":75.2,"k":0.253},
    {"s":"Illite, Querry","x":79.3,"k":0.276},
    {"s":"Illite, Querry","x":83.8,"k":0.301},
    {"s":"Illite, Querry","x":89.6,"k":0.38},
    {"s":"Illite, Querry","x":94.6,"k":0.402},
    {"s":"Illite, Querry","x":101,"k":0.402},
    {"s":"Illite, Querry","x":111,"k":0.319},
    {"s":"Illite, Querry","x":120,"k":0.207},
    {"s":"Illite, Querry","x":131,"k":0.13},
    {"s":"Illite, Querry","x":145,"k":0.0732},
    {"s":"Illite, Querry","x":155,"k":0.0654},
    {"s":"Illite, Querry","x":168,"k":0.0609},
    {"s":"Illite, Querry","x":187,"k":0.0635}
  ]},
  "mark": {"type": "line", "strokeWidth": 2, "clip": true},
  "encoding": {
    "x": {
      "field": "x", "type": "quantitative",
      "scale": {"type": "log", "domain": [0.1294, 186.8], "nice": false},
      "axis": {
        "values": [0.2,0.3,0.4,0.5,0.6,0.7,0.8,0.9,1,2,3,4,5,6,7,8,9,10,20,30,40,50,60,70,80,90,100],
        "labelExpr": "abs(log(datum.value)/LN10 - round(log(datum.value)/LN10)) < 0.000001 ? '10' + replace(replace(replace(replace(replace(replace(toString(round(log(datum.value)/LN10)),'-','⁻'),'0','⁰'),'1','¹'),'2','²'),'3','³'),'4','⁴') : ''",
        "labelOverlap": false,
        "labelFontSize": 28,
        "labelColor": "#262626",
        "labelPadding": 24,
        "labelFlush": false,
        "grid": true,
        "gridColor": {"condition": {"test": "abs(log(datum.value)/LN10 - round(log(datum.value)/LN10)) < 0.000001", "value": "#dcdcdc"}, "value": "#cfcfcf"},
        "gridDash": {"condition": {"test": "abs(log(datum.value)/LN10 - round(log(datum.value)/LN10)) < 0.000001", "value": []}, "value": [1, 3]},
        "ticks": true,
        "tickColor": "#4d4d4d",
        "tickSize": {"condition": {"test": "abs(log(datum.value)/LN10 - round(log(datum.value)/LN10)) < 0.000001", "value": -8}, "value": -4},
        "domainColor": "#4d4d4d",
        "domainWidth": 1.5,
        "title": "λ [μm]",
        "titleFontSize": 28,
        "titleFontWeight": "normal",
        "titleColor": "#262626",
        "titleX": 451,
        "titleY": 62,
        "titleBaseline": "middle",
        "titleAlign": "center"
      }
    },
    "y": {
      "field": "k", "type": "quantitative",
      "scale": {"type": "log", "domain": [0.000038, 6.3], "nice": false},
      "axis": {
        "values": [0.00004,0.00005,0.00006,0.00007,0.00008,0.00009,0.0001,0.0002,0.0003,0.0004,0.0005,0.0006,0.0007,0.0008,0.0009,0.001,0.002,0.003,0.004,0.005,0.006,0.007,0.008,0.009,0.01,0.02,0.03,0.04,0.05,0.06,0.07,0.08,0.09,0.1,0.2,0.3,0.4,0.5,0.6,0.7,0.8,0.9,1,2,3,4,5,6],
        "labelExpr": "abs(log(datum.value)/LN10 - round(log(datum.value)/LN10)) < 0.000001 ? '10' + replace(replace(replace(replace(replace(replace(toString(round(log(datum.value)/LN10)),'-','⁻'),'0','⁰'),'1','¹'),'2','²'),'3','³'),'4','⁴') : ''",
        "labelOverlap": false,
        "labelFontSize": 28,
        "labelColor": "#262626",
        "labelPadding": 9,
        "labelOffset": 3,
        "labelFlush": false,
        "grid": true,
        "gridColor": {"condition": {"test": "abs(log(datum.value)/LN10 - round(log(datum.value)/LN10)) < 0.000001", "value": "#dcdcdc"}, "value": "#cfcfcf"},
        "gridDash": {"condition": {"test": "abs(log(datum.value)/LN10 - round(log(datum.value)/LN10)) < 0.000001", "value": []}, "value": [1, 3]},
        "ticks": true,
        "tickColor": "#4d4d4d",
        "tickSize": {"condition": {"test": "abs(log(datum.value)/LN10 - round(log(datum.value)/LN10)) < 0.000001", "value": -8}, "value": -4},
        "domainColor": "#4d4d4d",
        "domainWidth": 1.5,
        "title": "k [-]",
        "titleFontSize": 28,
        "titleFontWeight": "normal",
        "titleColor": "#262626",
        "titleAngle": -90,
        "titleX": -77,
        "titleY": 347,
        "titleBaseline": "middle",
        "titleAlign": "center"
      }
    },
    "color": {
      "field": "s", "type": "nominal",
      "scale": {
        "domain": ["Illite, Egan and Hilgeman (1979)","Illite, Glotch et al. (2007)","Kaolinite, Egan and Hilgeman","Kaolinite, Glotch et al.","Kaolinite Roush et al. (1991)","Kaolinite, Arakawa et al. (1997)","Chlorite, Mooney and Knacke (1985)","Kaolinite, Querry (1987)","Illite, Querry"],
        "range": ["#0072BD","#D95319","#EDB120","#7E2F8E","#77AC30","#4DBEEE","#A2142F","#0072BD","#D95319"]
      },
      "legend": {
        "orient": "none",
        "legendX": 16,
        "legendY": 8,
        "title": null,
        "padding": 0,
        "symbolType": "stroke",
        "symbolSize": 729,
        "symbolStrokeWidth": 2,
        "labelFontSize": 27,
        "labelColor": "#000000",
        "labelOffset": 2,
        "labelLimit": 700,
        "rowPadding": 0
      }
    },
    "detail": {"field": "g", "type": "nominal"}
  }
}
